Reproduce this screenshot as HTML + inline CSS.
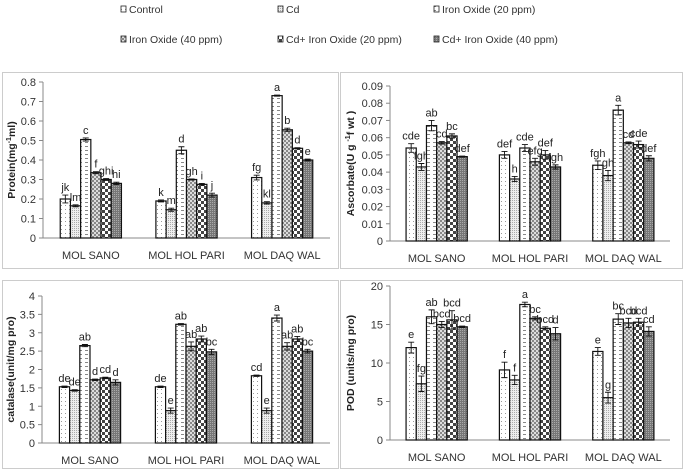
<!DOCTYPE html>
<html><head><meta charset="utf-8">
<style>
body{margin:0;background:#fff;}
svg{display:block;font-family:"Liberation Sans",sans-serif;}
</style></head>
<body>
<svg id="c" width="685" height="471" viewBox="0 0 685 471" xmlns="http://www.w3.org/2000/svg">
<defs>
<pattern id="p0" width="4" height="4" patternUnits="userSpaceOnUse"><rect width="4" height="4" fill="#fff"/><rect x="1" y="1" width="1" height="1" fill="#999"/></pattern>
<pattern id="p1" width="2" height="2" patternUnits="userSpaceOnUse"><rect width="2" height="2" fill="#eee"/><rect width="1" height="1" fill="#aaa"/></pattern>
<pattern id="p2" width="6" height="4" patternUnits="userSpaceOnUse"><rect width="6" height="4" fill="#fff"/><rect x="1" y="2" width="3" height="1" fill="#888"/></pattern>
<pattern id="p3" width="4" height="4" patternUnits="userSpaceOnUse"><rect width="4" height="4" fill="#ddd"/><rect width="2" height="2" fill="#888"/><rect x="2" y="2" width="2" height="2" fill="#888"/></pattern>
<pattern id="p4" width="6" height="6" patternUnits="userSpaceOnUse"><rect width="6" height="6" fill="#fff"/><rect width="3" height="3" fill="#444"/><rect x="3" y="3" width="3" height="3" fill="#444"/></pattern>
<pattern id="p5" width="2" height="2" patternUnits="userSpaceOnUse"><rect width="2" height="2" fill="#777"/><rect width="1" height="1" fill="#aaa"/></pattern>
</defs>
</svg>
<script>
const categories=["MOL SANO","MOL HOL PARI","MOL DAQ WAL"];
const seriesNames=["Control","Cd","Iron Oxide (20 ppm)","Iron Oxide (40 ppm)","Cd+ Iron Oxide (20 ppm)","Cd+ Iron Oxide (40 ppm)"];
const proteinValues=[[0.20,0.165,0.505,0.335,0.30,0.28],[0.19,0.145,0.45,0.30,0.275,0.22],[0.31,0.18,0.73,0.555,0.46,0.40]];
const proteinErr=[[0.02,0.005,0.008,0.005,0.005,0.006],[0.005,0.008,0.018,0.003,0.005,0.01],[0.012,0.006,0.003,0.008,0.003,0.005]];
const proteinLetters=[["jk","lm","c","f","ghi","hi"],["k","m","d","gh","i","j"],["fg","kl","a","b","d","e"]];
const proteinTicks=["0","0.1","0.2","0.3","0.4","0.5","0.6","0.7","0.8"];
const ascValues=[[0.054,0.043,0.067,0.057,0.061,0.049],[0.050,0.036,0.054,0.046,0.050,0.043],[0.044,0.038,0.076,0.057,0.056,0.048]];
const ascErr=[[0.0025,0.002,0.003,0.0007,0.0012,0.0003],[0.002,0.0015,0.002,0.002,0.0025,0.0012],[0.0025,0.003,0.0028,0.0005,0.002,0.0015]];
const ascLetters=[["cde","fgh","ab","cd","bc","def"],["def","h","cde","efg","def","fgh"],["fgh","gh","a","cd","cde","def"]];
const ascTicks=["0","0.01","0.02","0.03","0.04","0.05","0.06","0.07","0.08","0.09"];
const catValues=[[1.53,1.43,2.65,1.72,1.77,1.65],[1.53,0.88,3.23,2.63,2.83,2.48],[1.83,0.88,3.40,2.63,2.83,2.50]];
const catErr=[[0.02,0.02,0.03,0.02,0.02,0.07],[0.02,0.07,0.02,0.12,0.08,0.07],[0.02,0.07,0.08,0.1,0.07,0.05]];
const catLetters=[["de","de","ab","d","cd","d"],["de","e","ab","ab","ab","bc"],["cd","e","a","ab","ab","bc"]];
const catTicks=["0","0.5","1","1.5","2","2.5","3","3.5","4"];
const podValues=[[12,7.3,16,15,15.6,14.7],[9.1,7.8,17.6,15.8,14.5,13.8],[11.5,5.5,15.7,15.2,15.3,14.1]];
const podErr=[[0.7,1.0,0.9,0.4,1.2,0.1],[1.0,0.6,0.3,0.2,0.2,0.8],[0.5,0.7,0.7,0.6,0.5,0.6]];
const podLetters=[["e","fg","ab","bcd","bcd","bcd"],["f","f","a","bc","bcd","d"],["e","g","bc","bcd","bcd","cd"]];
const podTicks=["0","5","10","15","20"];

const svg=document.getElementById('c');
const NS="http://www.w3.org/2000/svg";
function mk(tag,attrs,parent){const e=document.createElementNS(NS,tag);for(const k in attrs)e.setAttribute(k,attrs[k]);(parent||svg).appendChild(e);return e;}

// legend
const legPos=[[121,10],[278,10],[434,10],[121,40],[278,40],[434,40]];
seriesNames.forEach((n,i)=>{
  const g=mk('g',{});
  
  
  const r=mk('rect',{x:legPos[i][0],y:legPos[i][1]-4,width:5,height:6,fill:'url(#p'+i+')',stroke:'#222','stroke-width':0.8},g);
  const t=mk('text',{x:legPos[i][0]+8,y:legPos[i][1]+3,'font-size':10.5,fill:'#333'},g);
  t.textContent=n;
});

function panel(opt){
  const g=mk('g',{});
  
  
  const fr=mk('rect',{x:opt.box[0],y:opt.box[1],width:opt.box[2],height:opt.box[3],fill:'none',stroke:'#ccc','stroke-width':1},g);
  
  
  const y=v=>opt.y0-(v/opt.max)*(opt.y0-opt.yTop);
  const catW=(opt.xR-opt.xL)/categories.length;
  const bw=10.2;
  // y axis
  const ya=mk('line',{x1:opt.xL,y1:opt.yTop,x2:opt.xL,y2:opt.y0,stroke:'#888'},g);
  
  
  opt.ticks.forEach((tk,i)=>{
    const v=opt.max*i/(opt.ticks.length-1);
    mk('line',{x1:opt.xL-4,x2:opt.xL,y1:y(v),y2:y(v),stroke:'#888'},g);
    const t=mk('text',{x:opt.xL-7,y:y(v)+4,'font-size':11,'text-anchor':'end',fill:'#333'},g);
    
    
    t.textContent=tk;
  });
  const xa=mk('line',{x1:opt.xL,y1:opt.y0,x2:opt.xR,y2:opt.y0,stroke:'#888'},g);
  
  
  // y title
  const yt=mk('text',{x:0,y:0,'font-size':10.5,'font-weight':'bold','text-anchor':'middle',fill:'#222',transform:'translate('+opt.titleX+','+((opt.yTop+opt.y0)/2)+') rotate(-90)'},g);
  
  
  yt.innerHTML=opt.title;
  categories.forEach((c,ci)=>{
    const cx=opt.xL+catW*(ci+0.5);
    const ct=mk('text',{x:cx,y:opt.y0+21,'font-size':11,'text-anchor':'middle',fill:'#333'},g);
    
    
    ct.textContent=c;
    opt.vals[ci].forEach((v,si)=>{
      const x=cx-3*bw+si*bw;
      const b=mk('rect',{x:x,y:y(v),width:bw,height:opt.y0-y(v),fill:'url(#p'+si+')',stroke:'#111','stroke-width':1.2},g);
      
      
      const e=opt.err[ci][si];
      const mx=x+bw/2;
      const eb=mk('path',{d:'M'+(mx-3)+' '+y(v+e)+'H'+(mx+3)+'M'+mx+' '+y(v+e)+'V'+y(v-e)+'M'+(mx-3)+' '+y(v-e)+'H'+(mx+3),stroke:'#111','stroke-width':0.9,fill:'none'},g);
      
      
      const lt=mk('text',{x:mx,y:y(v+e)-4,'font-size':11,'text-anchor':'middle',fill:'#222'},g);
      
      
      lt.textContent=opt.letters[ci][si];
    });
  });
}
panel({name:'protein-chart',box:[2.5,72.5,336,196],xL:43,xR:330,y0:238,yTop:82,max:0.8,ticks:proteinTicks,vals:proteinValues,err:proteinErr,letters:proteinLetters,title:'Protein(mg<tspan font-size="7" dy="-4">-1</tspan><tspan dy="4">ml)</tspan>',titleX:15});
panel({name:'ascorbate-chart',box:[340.5,72.5,342,196],xL:390,xR:670,y0:241,yTop:86,max:0.09,ticks:ascTicks,vals:ascValues,err:ascErr,letters:ascLetters,title:'Ascorbate(U g <tspan font-size="7" dy="-4">-1</tspan><tspan dy="4">f wt )</tspan>',titleX:354});
panel({name:'catalase-chart',box:[2.5,280.5,336,188],xL:42,xR:330,y0:443,yTop:296,max:4,ticks:catTicks,vals:catValues,err:catErr,letters:catLetters,title:'catalase(unit/mg pro)',titleX:14});
panel({name:'pod-chart',box:[340.5,280.5,342,188],xL:390,xR:670,y0:440,yTop:286,max:20,ticks:podTicks,vals:podValues,err:podErr,letters:podLetters,title:'POD (units/mg pro)',titleX:354});
</script>
</body></html>
